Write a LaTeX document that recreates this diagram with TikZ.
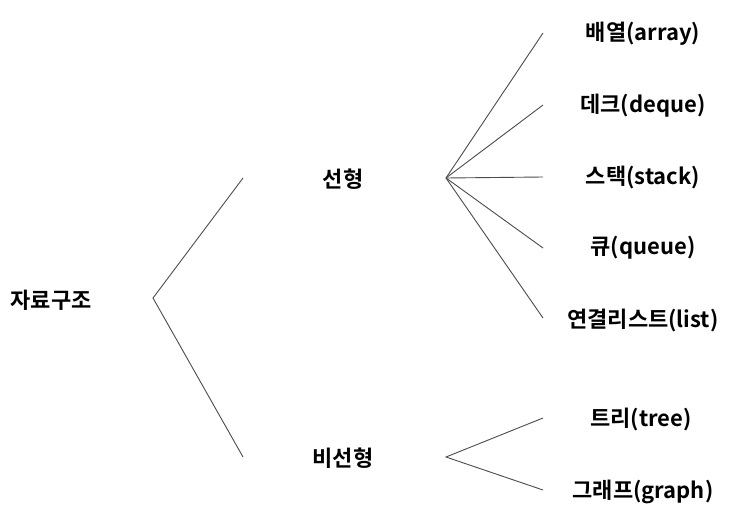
\documentclass[tikz,border=0pt]{standalone}
\usepackage{fontspec}
\setmainfont{Noto Sans CJK KR}[BoldFont={* Bold}]
\begin{document}
\begin{tikzpicture}[x=1pt,y=-1pt,
  lbl/.style={font=\bfseries\fontsize{22}{26}\selectfont, inner sep=0pt, anchor=center, yshift=-2pt},
  conn/.style={draw=black!70, line width=0.9pt}]
\useasboundingbox (0,0) rectangle (737,525);
\fill[white] (0,0) rectangle (737,525);
% text nodes
\node[lbl] (root) at (51,298) {자료구조};
\node[lbl] (lin) at (343,177) {선형};
\node[lbl] (nonlin) at (343,456) {비선형};
\node[lbl] (arr) at (643,32) {배열(array)};
\node[lbl] (deq) at (643,104) {데크(deque)};
\node[lbl] (stk) at (643,176) {스택(stack)};
\node[lbl] (que) at (643,246) {큐(queue)};
\node[lbl] (lst) at (643,318) {연결리스트(list)};
\node[lbl] (tre) at (641,417) {트리(tree)};
\node[lbl] (gra) at (643,490) {그래프(graph)};
% connector points
\coordinate (r0) at (153,298);
\coordinate (l1) at (243,178);
\coordinate (n1) at (243,457);
\coordinate (l0) at (446,178);
\coordinate (n0) at (446,457);
\coordinate (a1) at (543,33);
\coordinate (d1) at (543,105);
\coordinate (s1) at (543,177);
\coordinate (q1) at (543,248);
\coordinate (t1) at (543,318);
\coordinate (tr1) at (543,418);
\coordinate (g1) at (543,490);
\draw[conn] (l1) -- (r0) -- (n1);
\foreach \p in {a1,d1,s1,q1,t1} \draw[conn] (l0) -- (\p);
\draw[conn] (tr1) -- (n0) -- (g1);
\end{tikzpicture}
\end{document}
